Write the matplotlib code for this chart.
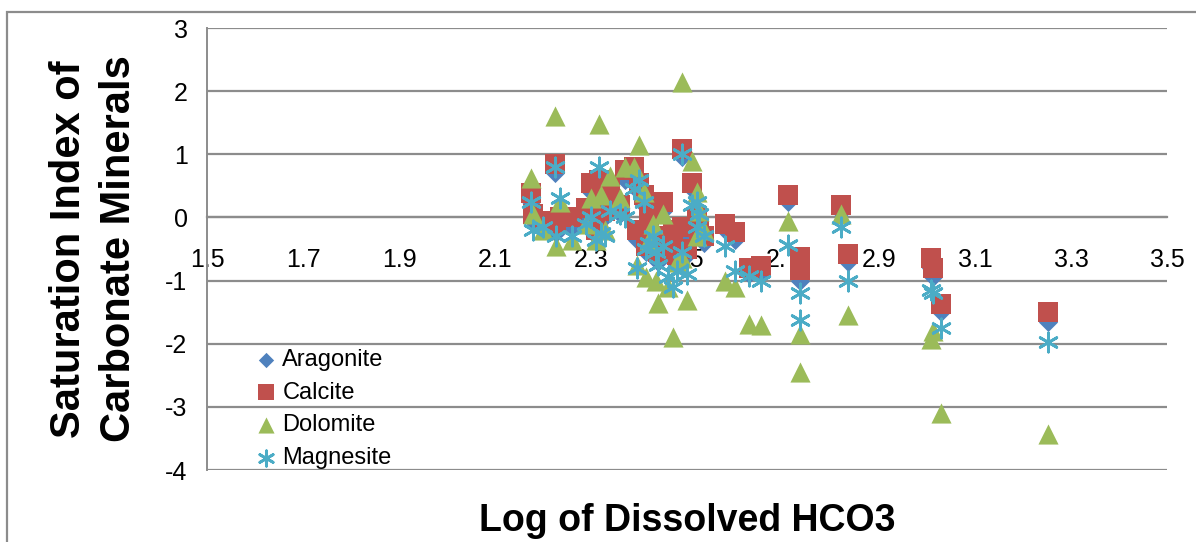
import matplotlib
matplotlib.use('Agg')
import matplotlib.pyplot as plt
from matplotlib.patches import Rectangle

plt.rcParams['font.family'] = ['Liberation Sans', 'DejaVu Sans']
plt.rcParams['axes.unicode_minus'] = False

# log HCO3 per sample
log_hco3 = [2.175, 2.18, 2.20, 2.225, 2.227, 2.235, 2.26, 2.29, 2.30, 2.316,
            2.31, 2.32, 2.33, 2.34, 2.36, 2.37, 2.39, 2.40, 2.395, 2.41,
            2.42, 2.415, 2.43, 2.435, 2.44, 2.45, 2.46, 2.47, 2.48, 2.49,
            2.49, 2.50, 2.51, 2.52, 2.525, 2.535, 2.52, 2.58, 2.60, 2.63,
            2.655, 2.71, 2.735, 2.735, 2.82, 2.835, 3.008, 3.012, 3.03, 3.253]

calcite = [0.38, 0.05, -0.05, 0.85, -0.10, 0.00, 0.00, 0.15, 0.55, 0.60,
           -0.20, 0.30, 0.10, 0.45, 0.20, 0.75, 0.80, 0.55, -0.20, 0.35,
           0.00, -0.45, 0.20, -0.30, -0.55, 0.25, -0.40, -0.20, -0.60, 1.08,
           -0.15, -0.50, 0.55, 0.00, -0.20, -0.30, -0.10, -0.10, -0.23, -0.80,
           -0.77, 0.35, -0.63, -0.84, 0.19, -0.58, -0.65, -0.80, -1.37, -1.50]

aragonite = [0.25, -0.05, -0.15, 0.70, -0.25, -0.10, -0.15, 0.00, 0.40, 0.50,
             -0.30, 0.20, 0.00, 0.30, 0.05, 0.60, 0.65, 0.40, -0.35, 0.20,
             -0.15, -0.55, 0.05, -0.45, -0.70, 0.10, -0.50, -0.35, -0.75, 0.95,
             -0.30, -0.60, 0.45, -0.10, -0.30, -0.40, -0.20, -0.20, -0.35, -0.90,
             -0.88, 0.25, -0.78, -1.00, 0.08, -0.70, -0.80, -0.95, -1.50, -1.65]

dolomite = [0.63, 0.06, -0.20, 1.60, -0.45, 0.25, -0.35, -0.10, 0.30, 1.48,
            -0.35, 0.35, -0.20, 0.65, 0.30, 0.80, 0.80, 1.15, -0.75, 0.40,
            -0.35, -0.95, -0.10, -1.00, -1.35, 0.05, -1.10, -1.90, -0.70, 2.15,
            -0.65, -1.30, 0.90, 0.40, 0.10, -0.20, -0.30, -1.00, -1.10, -1.68,
            -1.70, -0.05, -1.84, -2.45, 0.06, -1.55, -1.92, -1.80, -3.10, -3.43]

magnesite = [0.24, -0.20, -0.15, 0.80, -0.30, 0.30, -0.30, -0.10, 0.00, 0.80,
             -0.35, -0.25, -0.30, 0.10, 0.05, 0.00, 0.45, 0.60, -0.80, 0.25,
             -0.40, -0.50, -0.30, -0.55, -0.75, -0.45, -0.95, -1.10, -0.85, 1.00,
             -0.55, -0.90, 0.20, 0.25, 0.05, -0.30, -0.15, -0.45, -0.85, -0.92,
             -1.00, -0.44, -1.20, -1.63, -0.15, -1.00, -1.15, -1.20, -1.75, -1.97]

x_ticks = [1.5, 1.7, 1.9, 2.1, 2.3, 2.5, 2.7, 2.9, 3.1, 3.3, 3.5]
y_ticks = [-4, -3, -2, -1, 0, 1, 2, 3]

fig = plt.figure(figsize=(11.96, 5.42), dpi=100)
ax = fig.add_axes([207 / 1196, 1 - 470 / 542, (1167 - 207) / 1196, (470 - 28) / 542])

ax.scatter(log_hco3, aragonite, marker='D', s=95, color='#4F81BD', label='Aragonite', zorder=3, linewidths=0)
ax.scatter(log_hco3, calcite, marker='s', s=200, color='#C0504D', label='Calcite', zorder=4, linewidths=0)
ax.scatter(log_hco3, dolomite, marker='^', s=210, color='#9BBB59', label='Dolomite', zorder=5, linewidths=0)
ax.scatter(log_hco3, magnesite, marker=(6, 2, 0), s=190, color='#4BACC6', label='Magnesite',
           zorder=6, linewidths=2)

ax.set_xlim(1.5, 3.5)
ax.set_ylim(-4, 3)
ax.set_xticks(x_ticks)
ax.set_yticks(y_ticks)
ax.set_xticklabels(['%.1f' % v for v in x_ticks])
ax.yaxis.grid(True, color='#8C8C8C', linewidth=1.6)
ax.set_axisbelow(True)

# x axis crosses at y = 0
ax.spines['bottom'].set_position(('data', 0))
ax.spines['bottom'].set_color('#8C8C8C')
ax.spines['bottom'].set_linewidth(1.6)
for s in ['top', 'right']:
    ax.spines[s].set_visible(False)
ax.spines['left'].set_color('#8C8C8C')
ax.spines['left'].set_linewidth(1.4)

ax.tick_params(axis='both', length=0, labelsize=18)
ax.tick_params(axis='y', pad=14)
ax.tick_params(axis='x', pad=22)

ax.set_xlabel('Log of Dissolved HCO3', fontsize=27, fontweight='bold', va='top')
ax.xaxis.set_label_coords(0.5, -0.075)
ax.set_ylabel('Saturation Index of\nCarbonate Minerals', fontsize=30, fontweight='bold',
              labelpad=19, linespacing=1.3)

leg = ax.legend(loc='lower left', bbox_to_anchor=(0.028, -0.035), frameon=False, fontsize=17,
                handletextpad=0.05, labelspacing=0.45, borderpad=0.2, markerscale=0.8,
                handlelength=1.3)

fig.patches.append(Rectangle((7 / 1196, -0.1), 1.2, 1 - 12 / 542 + 0.1, transform=fig.transFigure,
                             fill=False, edgecolor='#8C8C8C', linewidth=1.6))

fig.savefig('out.png', dpi=100)
